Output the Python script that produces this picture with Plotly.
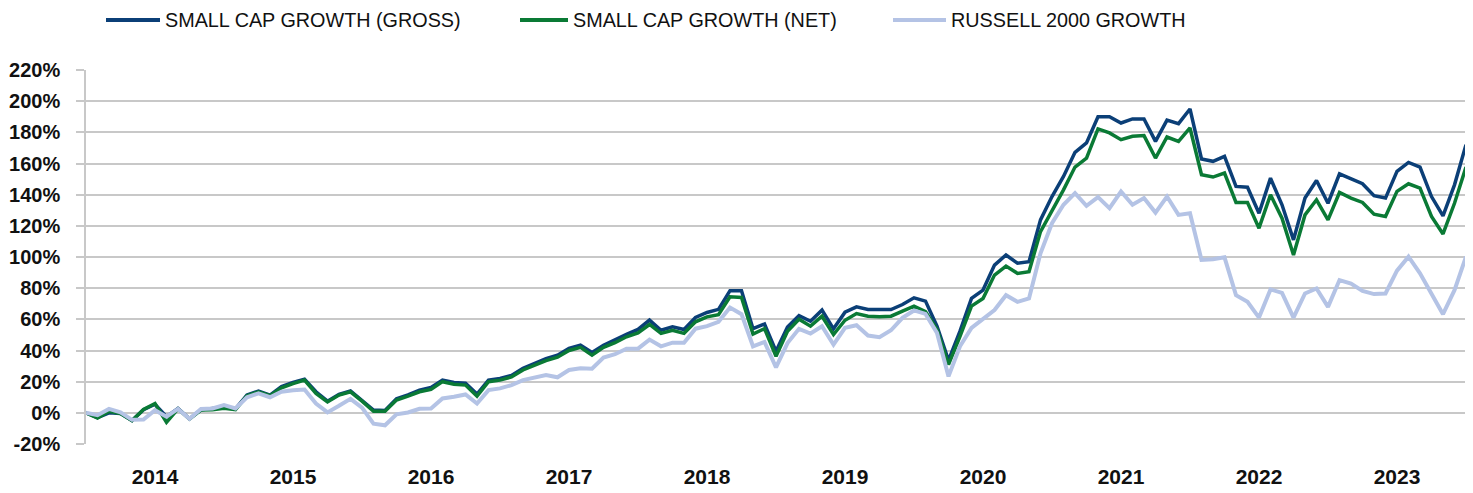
import pandas as pd
import plotly.graph_objects as go

# Monthly categories Dec 2013 .. Dec 2023
months = [p.strftime("%Y-%m") for p in pd.period_range("2013-12", "2023-12", freq="M")]

gross = [0, -3, 0, -0.5, -5, 2, 5.5, -2.5, 2.8, -3.8, 2, 2.5, 3.5, 2.5, 11.5, 14, 11.4, 16.8, 19.5, 21.5,
         13.5, 7.5, 11.8, 14, 8, 1.8, 1.5, 9, 11.5, 14.6, 16.3, 21, 19.5, 19, 12, 21, 22, 24, 28.6, 31.8,
         34.8, 37, 41.3, 43.4, 38.7, 43.4, 47, 50.3, 53.5, 59.5, 53, 55.2, 53.5, 61.2, 64.4, 66.4, 78.4, 78.4, 54, 57,
         39.5, 55, 62.4, 58.8, 65.9, 53.9, 64.6, 68, 66.3, 66.3, 66.3, 69.5, 73.8, 71.7, 55.6, 33.7, 52.4, 73.4, 78.8, 94.8,
         101.3, 96, 97, 123.8, 138.8, 151.7, 167.2, 173.2, 190, 190, 186, 188.6, 188.6, 174.2, 187.8, 185.6, 195, 162.9, 161.4, 164.6,
         145.3, 144.8, 128.1, 150.6, 133.5, 111, 137.8, 149.1, 134.5, 153.4, 150, 147, 139.3, 137.8, 155, 160.7, 157.7, 138.8, 126.4, 146.3,
         172]
net = [0, -3.3, 1, -0.5, -5, 2.2, 6, -6, 2.5, -4, 1.8, 2, 3, 2, 11, 13.5, 11, 16, 18.7, 21,
       12.5, 7, 11.4, 13.5, 7.5, 1, 1, 8.2, 10.7, 13.5, 15, 20, 18.3, 17.8, 10.7, 20, 21, 23, 27.5, 30.7,
       33.5, 35.7, 40, 42, 37, 42, 45, 48.8, 51.3, 56.7, 51, 53, 51, 58.4, 61.6, 63, 74.5, 74, 50.5, 54,
       36.3, 52.4, 60, 55.6, 62, 50.2, 59.4, 63.7, 62, 61.6, 62, 65.2, 68.5, 65, 53.4, 31, 49, 68.5, 73.4, 88.4,
       94.2, 89.5, 90.6, 116.3, 129.2, 143.1, 157.7, 163.5, 182.2, 179.6, 175.3, 177.5, 177.9, 163.5, 177, 174.2, 182.8, 152.8, 151.3, 153.9,
       135, 135, 118.5, 139.9, 124.9, 101.3, 127, 136.7, 123.8, 141.4, 137.8, 135, 127.5, 126, 142.1, 147, 144.2, 126, 114.8, 134.5,
       157.7]
russell = [0, -1.5, 2.5, 0.3, -4.5, -4.3, 1.7, -2.5, 2.5, -3.8, 2.5, 2.8, 5, 2.8, 10, 12.5, 10, 13.5, 14.5, 15,
           6, 0.3, 4.5, 9, 3.4, -7, -8, -1, 0.2, 2.6, 2.8, 9.2, 10.3, 11.8, 6, 14.6, 15.7, 17.8, 21, 22.8,
           24.3, 22.8, 27.5, 28.6, 28.3, 35.5, 37.6, 41.2, 41.2, 47, 42.7, 45, 45, 54, 55.6, 58.4, 67.6, 63.3, 42.7, 45.5,
           29.2, 44.8, 53.9, 50.9, 55.6, 43.8, 54.5, 56.2, 49.6, 48.5, 53, 61, 65.7, 63.5, 51.3, 23.4, 42.7, 54.5, 60.5, 66,
           75.5, 71.2, 73.4, 102.4, 121.7, 133.5, 141, 132.8, 138.4, 131.3, 142, 133.5, 137.8, 128.5, 138.8, 127, 128.1, 98.1, 98.5, 99.8,
           75.5, 71.2, 61.1, 79.2, 77, 61.1, 76.6, 79.8, 68, 85.2, 83, 78.3, 76.2, 76.6, 91.2, 100.2, 89.5, 76.6, 63.3, 78.7,
           100.2]

series_names = ["SMALL CAP GROWTH (GROSS)", "SMALL CAP GROWTH (NET)", "RUSSELL 2000 GROWTH"]
series_colors = ["#0B3F77", "#0A7A35", "#B4C3E5"]
series_widths = [3.5, 3.5, 4]

year_labels = [str(y) for y in range(2014, 2024)]
year_ticks = [f"{y}-06" for y in range(2014, 2024)]
y_ticks = list(range(-20, 221, 20))

FONT = "Liberation Sans, Arial, Helvetica, sans-serif"
TXT = "#111111"

fig = go.Figure()
for name, vals, col, w in zip(series_names, [gross, net, russell], series_colors, series_widths):
    fig.add_trace(go.Scatter(x=months, y=vals, mode="lines", name=name,
                             line=dict(color=col, width=w), showlegend=False))

# page body has an 8px default margin -> compensate
OFF = 8
W, H = 1473 - OFF, 493 - OFF
L, T = 86 - OFF, 70 - OFF
R = W - (1466 - OFF)
B = H - (444 - OFF)
pw, ph = W - L - R, H - T - B

def px(x):  # window pixel -> paper
    return (x - OFF - L) / pw

def py(y):
    return (H - B - (y - OFF)) / ph

LEG_Y = 20
legend_pos = [(106, 160, 164), (520, 568, 572), (893, 946, 950)]
for (x0, x1, xt), name, col in zip(legend_pos, series_names, series_colors):
    fig.add_shape(type="line", xref="paper", yref="paper", x0=px(x0), x1=px(x1), y0=py(LEG_Y), y1=py(LEG_Y),
                  line=dict(color=col, width=4))
    fig.add_annotation(xref="paper", yref="paper", x=px(xt), y=py(LEG_Y), text=name, showarrow=False,
                       xanchor="left", yanchor="middle", borderpad=0,
                       font=dict(family=FONT, size=19.8, color=TXT))

fig.update_layout(
    width=W, height=H,
    margin=dict(l=L, r=R, t=T, b=B, autoexpand=False),
    paper_bgcolor="white", plot_bgcolor="white",
    font=dict(family=FONT, size=21, color=TXT),
)
fig.update_xaxes(type="category", range=[0, len(months) - 1], tickmode="array",
                 tickvals=year_ticks, ticktext=year_labels, showgrid=False, showline=False,
                 ticks="", ticklabelstandoff=18, automargin=False,
                 tickfont=dict(family=FONT, size=21, color=TXT, weight="bold"))
fig.update_yaxes(range=[-20, 220], tickmode="array", tickvals=y_ticks,
                 ticktext=[f"{v}%" for v in y_ticks], showgrid=True, gridcolor="#C8C8C8", gridwidth=1.5,
                 zeroline=False, showline=True, linecolor="#C8C8C8", linewidth=1.5,
                 ticks="outside", ticklen=8, tickcolor="#C8C8C8", tickwidth=1.5, ticklabelstandoff=12,
                 automargin=False,
                 tickfont=dict(family=FONT, size=20, color=TXT, weight="bold"))

fig.write_html("out.html")
